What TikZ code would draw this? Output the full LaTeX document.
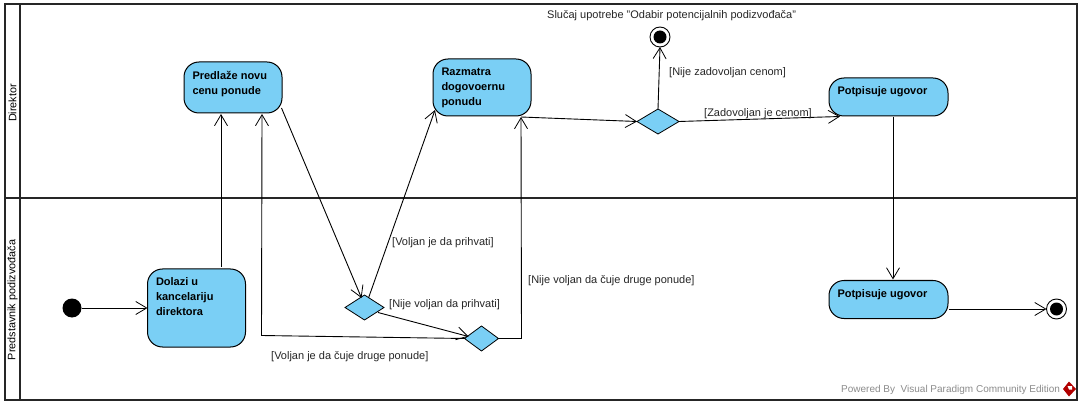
\documentclass[tikz,border=0pt]{standalone}
\usepackage{fontspec}
\setmainfont{Liberation Sans}
\usetikzlibrary{arrows.meta,shapes.geometric}
\definecolor{actblue}{RGB}{122,207,245}
\definecolor{wm}{RGB}{140,140,140}
\newcommand{\actbox}[3]{\parbox[c][#2pt][t]{#1pt}{\vspace*{9pt}\leftskip=8.5pt\rightskip=0pt plus 1fil\parindent=0pt\baselineskip=15pt #3}}
\tikzset{
  x=1pt,y=-1pt,
  act/.style={draw=black,line width=1pt,fill=actblue,rounded corners=15pt,inner sep=0pt,outer sep=0pt,font=\fontsize{11}{15}\selectfont\bfseries},
  dec/.style={draw=black,line width=0.8pt,fill=actblue,diamond,aspect=1.6,inner sep=0pt,outer sep=0pt},
  flow/.style={draw=black,line width=0.9pt,-{Straight Barb[length=11pt,width=13pt,line width=0.8pt]}},
  guard/.style={font=\fontsize{11}{13}\selectfont,text=black!85,inner sep=0pt,anchor=west},
  startn/.style={circle,fill=black,minimum size=19pt,inner sep=0pt,outer sep=0pt},
  endn/.style={circle,draw=black,line width=0.9pt,fill=white,minimum size=20pt,inner sep=0pt,outer sep=0pt},
  lane/.style={draw=black!85,line width=2pt},
  lanetitle/.style={font=\fontsize{10.8}{13}\selectfont,rotate=90,inner sep=0pt}
}
\begin{document}
\begin{tikzpicture}
\useasboundingbox (0,0) rectangle (1082,406);
\fill[white] (0,0) rectangle (1082,406);
% swimlanes
\draw[lane] (4.5,4) rectangle (1076.5,400);
\draw[lane] (19.5,4) -- (19.5,400);
\draw[lane] (4.5,198) -- (1076.5,198);
\node[lanetitle] (lanea) at (12.5,103) {Direktor};
\node[lanetitle] (laneb) at (12.5,300) {Predstavnik podizvođača};
% nodes
\node[startn] (start) at (72,308) {};
\node[act] (dolazi) at (196.5,308) {\actbox{98}{78}{Dolazi u\\kancelariju\\direktora}};
\node[act] (predlaze) at (233,87.5) {\actbox{98}{51}{Predlaže novu\\cenu ponude}};
\node[act] (razmatra) at (482,87.5) {\actbox{98}{57}{Razmatra\\dogovoernu\\ponudu}};
\node[act] (potpis) at (888.5,97) {\actbox{119}{38}{Potpisuje ugovor}};
\node[act] (potpisb) at (888.5,299.5) {\actbox{119}{38}{Potpisuje ugovor}};
\node[dec,minimum width=39pt,minimum height=25pt] (da) at (364.5,307.5) {};
\node[dec,minimum width=34pt,minimum height=25pt] (db) at (481.5,338.5) {};
\node[dec,minimum width=42pt,minimum height=25pt] (dc) at (658,121.5) {};
\node[endn] (enda) at (660,37) {};
\fill[black] (enda.center) circle (6.5pt);
\node[endn] (endb) at (1056.5,309) {};
\fill[black] (endb.center) circle (6.5pt);
% connectors
\draw[flow] (start) -- (dolazi.west |- start);
\draw[flow] ([xshift=24.5pt,yshift=2pt]dolazi.north) -- ([xshift=-12pt,yshift=-1pt]predlaze.south);
\draw[flow] ([xshift=-0.5pt,yshift=5pt]predlaze.south east) -- ([xshift=-3pt,yshift=-3pt]da.north);
\draw[flow] ([xshift=4pt,yshift=-3pt]da.north) -- ([xshift=-47pt,yshift=6pt]razmatra.south);
\draw[flow] ([xshift=-6pt,yshift=-5pt]da.east) -- ([xshift=4pt,yshift=2pt]db.west);
\draw[flow] (db.west) -- ++(-203,-3) -- ([xshift=29pt,yshift=-1pt]predlaze.south);
\draw[flow] (db.east) -- ++(23,0) -- ([xshift=39pt,yshift=-1pt]razmatra.south);
\draw[flow] ([xshift=39pt,yshift=-1pt]razmatra.south) -- (dc.west);
\draw[flow] (dc.east) -- ([xshift=11pt,yshift=-0.5pt]potpis.south west);
\draw[flow] (dc.north) -- (enda.south);
\draw[flow] ([xshift=4.5pt,yshift=-1pt]potpis.south) -- ([xshift=4.5pt,yshift=1pt]potpisb.north);
\draw[flow] ([xshift=1pt,yshift=-9.5pt]potpisb.east) -- (endb.west);
% labels
\node[guard] (t1) at (547,16) {Slučaj upotrebe "Odabir potencijalnih podizvođača"};
\node[guard] (t2) at (669,73) {[Nije zadovoljan cenom]};
\node[guard] (t3) at (704,114) {[Zadovoljan je cenom]};
\node[guard] (t4) at (392,243) {[Voljan je da prihvati]};
\node[guard] (t5) at (389,305) {[Nije voljan da prihvati]};
\node[guard] (t6) at (528,281) {[Nije voljan da čuje druge ponude]};
\node[guard] (t7) at (271,357) {[Voljan je da čuje druge ponude]};
\node[guard,text=wm,font=\fontsize{10}{12}\selectfont] (wmt) at (841,390) {Powered By\ \ Visual Paradigm Community Edition};
% logo
\fill[red!70!black] (1069,381.5) -- (1076,389) -- (1069,396.5) -- (1063,389) -- cycle;
\fill[white] (1067.5,386) -- (1072,386) -- (1072,389.5) -- (1069,389.5) -- cycle;
\end{tikzpicture}
\end{document}
